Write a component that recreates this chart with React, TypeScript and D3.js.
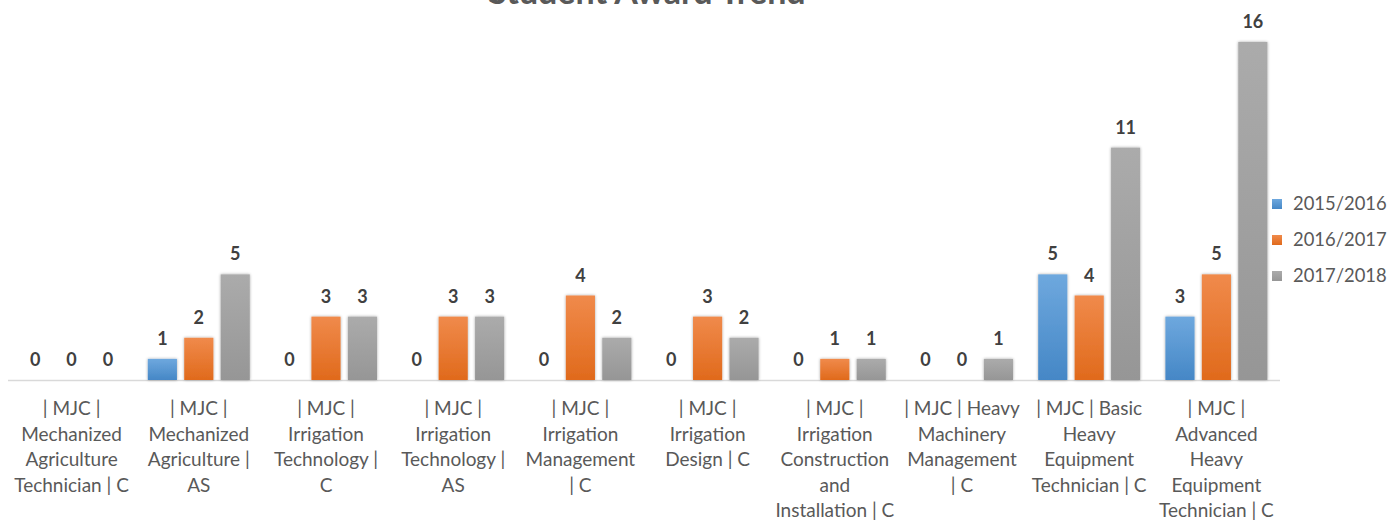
import React from 'react'
import * as d3 from 'd3'

const categoryLines: string[][] = [
  ['| MJC |', 'Mechanized', 'Agriculture', 'Technician | C'],
  ['| MJC |', 'Mechanized', 'Agriculture |', 'AS'],
  ['| MJC |', 'Irrigation', 'Technology |', 'C'],
  ['| MJC |', 'Irrigation', 'Technology |', 'AS'],
  ['| MJC |', 'Irrigation', 'Management', '| C'],
  ['| MJC |', 'Irrigation', 'Design | C'],
  ['| MJC |', 'Irrigation', 'Construction', 'and', 'Installation | C'],
  ['| MJC | Heavy', 'Machinery', 'Management', '| C'],
  ['| MJC | Basic', 'Heavy', 'Equipment', 'Technician | C'],
  ['| MJC |', 'Advanced', 'Heavy', 'Equipment', 'Technician | C'],
]

const seriesNames = ['2015/2016', '2016/2017', '2017/2018']
const values2015 = [0, 1, 0, 0, 0, 0, 0, 0, 5, 3]
const values2016 = [0, 2, 3, 3, 4, 3, 1, 0, 4, 5]
const values2017 = [0, 5, 3, 3, 2, 2, 1, 1, 11, 16]

const colors = [
  { top: '#6ea8de', bottom: '#4587c6' },
  { top: '#f08a4b', bottom: '#e06a1c' },
  { top: '#ababab', bottom: '#969696' },
]

const W = 1398
const H = 523
const baseY = 380

export default function App() {
  const series = [values2015, values2016, values2017]
  const idx = d3.range(categoryLines.length)

  const x0 = d3.scaleBand<number>().domain(idx).range([8, 1280]).paddingInner(0).paddingOuter(0)
  const x1 = d3.scaleBand<number>().domain([0, 1, 2]).range([x0.bandwidth() / 2 - 51, x0.bandwidth() / 2 + 51]).paddingInner(0.2).paddingOuter(0)
  const y = d3.scaleLinear().domain([0, 16]).range([baseY, 42])

  const font = 'Lato, "Open Sans", sans-serif'

  return (
    <svg width={W} height={H} style={{ position: 'absolute', left: 0, top: 0, background: '#fff' }}>
      <defs>
        {colors.map((c, i) => (
          <linearGradient key={i} id={`g${i}`} x1="0" y1="0" x2="0" y2="1">
            <stop offset="0%" stopColor={c.top} />
            <stop offset="100%" stopColor={c.bottom} />
          </linearGradient>
        ))}
        <filter id="sh" x="-30%" y="-10%" width="160%" height="120%">
          <feGaussianBlur in="SourceAlpha" stdDeviation="1.5" />
          <feOffset dx="0" dy="0" result="b" />
          <feComponentTransfer><feFuncA type="linear" slope="0.35" /></feComponentTransfer>
          <feMerge><feMergeNode /><feMergeNode in="SourceGraphic" /></feMerge>
        </filter>
      </defs>

      <text x={647} y={4} textAnchor="middle" fontFamily={font} fontWeight="bold" fontSize={34} fill="#595959">
        Student Award Trend
      </text>

      <line x1={8} x2={1280} y1={baseY + 0.5} y2={baseY + 0.5} stroke="#d9d9d9" strokeWidth={1.5} />

      {idx.map(ci => (
        <g key={ci} transform={`translate(${x0(ci)},0)`}>
          {series.map((vals, si) => {
            const v = vals[ci]
            const bx = x1(si) as number
            const bw = x1.bandwidth()
            return (
              <g key={si}>
                {v > 0 && (
                  <rect x={bx} y={y(v)} width={bw} height={baseY - y(v)} fill={`url(#g${si})`} filter="url(#sh)" />
                )}
                <text x={bx + bw / 2} y={y(v) - 14} textAnchor="middle" fontFamily={font} fontWeight="bold" fontSize={18} fill="#404040">
                  {v}
                </text>
              </g>
            )
          })}
          <text textAnchor="middle" fontFamily={font} fontSize={19} fill="#595959">
            {categoryLines[ci].map((l, li) => (
              <tspan key={li} x={x0.bandwidth() / 2} y={415 + li * 25.6}>{l}</tspan>
            ))}
          </text>
        </g>
      ))}

      {seriesNames.map((n, i) => (
        <g key={n} transform={`translate(1272,${204 + i * 36})`}>
          <rect x={0} y={-5} width={10} height={10} fill={`url(#g${i})`} />
          <text x={21} y={6} fontFamily={font} fontSize={18.4} fill="#595959">{n}</text>
        </g>
      ))}
    </svg>
  )
}
